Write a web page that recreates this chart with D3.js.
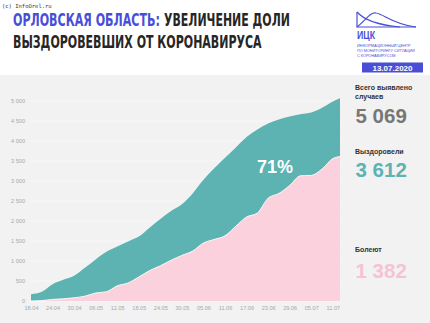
<!DOCTYPE html>
<html><head><meta charset="utf-8">
<script src="https://cdn.jsdelivr.net/npm/d3@7"></script>
<style>body{margin:0;background:#fff}svg{display:block}</style>
</head><body>
<svg id="c" width="430" height="323"></svg>
<script>
// ---- data ----
const dates = ["18.04","21.04","24.04","27.04","30.04","03.05","06.05","09.05","12.05","15.05","18.05","21.05","24.05","27.05","30.05","02.06","05.06","08.06","11.06","14.06","17.06","20.06","23.06","26.06","29.06","02.07","05.07","08.07","11.07","13.07"];
const totalCases = [170,230,420,530,630,830,1040,1230,1360,1490,1610,1830,2050,2250,2420,2690,3030,3320,3580,3840,4100,4290,4440,4540,4610,4670,4710,4830,4990,5069];
const recovered  = [0,10,40,55,80,120,200,232,380,450,600,760,880,1020,1140,1250,1450,1540,1630,1870,2100,2200,2570,2690,2890,3130,3140,3300,3560,3612];
const xTickLabels = ["18.04","24.04","30.04","06.05","12.05","18.05","24.05","30.05","05.06","11.06","17.06","23.06","29.06","05.07","11.07"];
const yTicks = [0,500,1000,1500,2000,2500,3000,3500,4000,4500,5000];
const summaryLabels = ["Всего выявлено|случаев","Выздоровели","Болеют"];
const summaryValues = ["5 069","3 612","1 382"];
const shareLabel = "71%";

const svg = d3.select("#c");
const parse = d3.timeParse("%d.%m.%Y");
const pd = s => parse(s + ".2020");

const C = {teal:"#5cb3b2", pink:"#fad1dd", bg:"#f2f2f2", blue:"#4a4ed6", dark:"#262626"};
const condensed = "DejaVu Sans Condensed, Liberation Sans Narrow, sans-serif";

// background
svg.append("rect").attr("x",0).attr("y",75).attr("width",430).attr("height",248).attr("fill",C.bg);

// header: fit text to a width by horizontal scaling
function fitText(str, x0, y0, width, color) {
  const t = svg.append("text").attr("font-family",condensed).attr("font-weight","bold")
    .attr("font-size",17).attr("fill",color).text(str);
  const w = t.node().getComputedTextLength();
  t.attr("transform",`translate(${x0},${y0}) scale(${width/w},1)`);
  return t;
}
svg.append("text").attr("x",2).attr("y",8).attr("font-family","DejaVu Sans Mono").attr("font-size",5.5).attr("fill","#333").text("(c) InfoOrel.ru");
fitText("ОРЛОВСКАЯ ОБЛАСТЬ:", 13, 25.5, 147, C.blue);
fitText("УВЕЛИЧЕНИЕ ДОЛИ", 164, 25.5, 126, C.dark);
fitText("ВЫЗДОРОВЕВШИХ ОТ КОРОНАВИРУСА", 13, 47.5, 249, C.dark);

// logo
const lg = svg.append("g").attr("fill","none").attr("stroke",C.blue).attr("stroke-width",1.2);
lg.append("path").attr("d","M357,12 L357,27 L416,27");
lg.append("path").attr("d","M357,27 C366,20 370,12 376,13 C384,14 392,24 416,27");
lg.append("path").attr("d","M357,12 C364,20 378,25 400,27");
svg.append("text").attr("x",357).attr("y",38.5).attr("font-family","Liberation Sans, Arial, sans-serif").attr("font-weight","bold")
  .attr("font-size",10).attr("fill",C.blue).attr("textLength",18).attr("lengthAdjust","spacingAndGlyphs").text("ИЦК");
["ИНФОРМАЦИОННЫЙ ЦЕНТР","ПО МОНИТОРИНГУ СИТУАЦИИ","С КОРОНАВИРУСОМ"].forEach((s,i)=>{
  svg.append("text").attr("x",357).attr("y",47+i*4.8).attr("font-family","Liberation Sans, Arial, sans-serif")
    .attr("font-size",3.8).attr("fill",C.blue).text(s);
});
svg.append("rect").attr("x",362).attr("y",62.5).attr("width",61).attr("height",10).attr("fill",C.blue);
svg.append("text").attr("x",392.5).attr("y",70.5).attr("text-anchor","middle").attr("font-family","Liberation Sans, Arial, sans-serif")
  .attr("font-weight","bold").attr("font-size",8).attr("fill","#fff").text("13.07.2020");

// scales
const x = d3.scaleTime().domain([pd("18.04"), pd("13.07")]).range([31, 340]);
const y = d3.scaleLinear().domain([0,5000]).range([301,101]);

// grid
svg.append("g").selectAll("line").data(yTicks).join("line")
  .attr("x1",29).attr("x2",342).attr("y1",d=>y(d)).attr("y2",d=>y(d))
  .attr("stroke","#fafafa").attr("stroke-width",0.8);

// y axis
const yAxis = d3.axisLeft(y).tickValues(yTicks).tickSize(0).tickPadding(0)
  .tickFormat(d => d3.format(",")(d).replace(",", " "));
const ya = svg.append("g").attr("transform","translate(25,0)").call(yAxis);
ya.select(".domain").remove();
ya.selectAll("text").attr("font-family","Liberation Sans, Arial, sans-serif").attr("font-size",5.6).attr("fill","#a8a8a8");

// x axis
const xAxis = d3.axisBottom(x).tickValues(xTickLabels.map(pd)).tickSize(0).tickPadding(0)
  .tickFormat(d3.timeFormat("%d.%m"));
const xa = svg.append("g").attr("transform","translate(0,306)").call(xAxis);
xa.select(".domain").remove();
xa.selectAll("text").attr("font-family","Liberation Sans, Arial, sans-serif").attr("font-size",5.6).attr("fill","#a8a8a8");

// areas
const rows = dates.map((d,i)=>({d:pd(d), t:totalCases[i], r:recovered[i]}));
const curve = d3.curveMonotoneX;
svg.append("path").datum(rows).attr("fill",C.teal)
  .attr("d", d3.area().x(d=>x(d.d)).y0(y(0)).y1(d=>y(d.t)).curve(curve));
svg.append("path").datum(rows).attr("fill",C.pink)
  .attr("d", d3.area().x(d=>x(d.d)).y0(y(0)).y1(d=>y(d.r)).curve(curve));
svg.append("path").datum(rows).attr("fill","none").attr("stroke","#fff").attr("stroke-width",0.9)
  .attr("d", d3.line().x(d=>x(d.d)).y(d=>y(d.r)).curve(curve));

svg.append("text").attr("x",275).attr("y",173).attr("text-anchor","middle").attr("font-family","Liberation Sans, Arial, sans-serif")
  .attr("font-weight","bold").attr("font-size",18).attr("fill","#fff").text(shareLabel);

// summary panel
const labelY = [89.5, 153.5, 251.5];
const valueY = [123, 176.5, 278];
const valueColors = ["#777777", C.teal, "#f6c3d2"];
summaryLabels.forEach((s,i)=>{
  s.split("|").forEach((line,j)=>{
    svg.append("text").attr("x",355).attr("y",labelY[i]+j*9.3).attr("font-family","Liberation Sans, Arial, sans-serif")
      .attr("font-weight","bold").attr("font-size",7).attr("fill","#333").text(line);
  });
  svg.append("text").attr("x",355.5).attr("y",valueY[i]).attr("font-family","Liberation Sans, Arial, sans-serif")
    .attr("font-weight","bold").attr("font-size",20.5).attr("fill",valueColors[i]).text(summaryValues[i]);
});
</script>
</body></html>
